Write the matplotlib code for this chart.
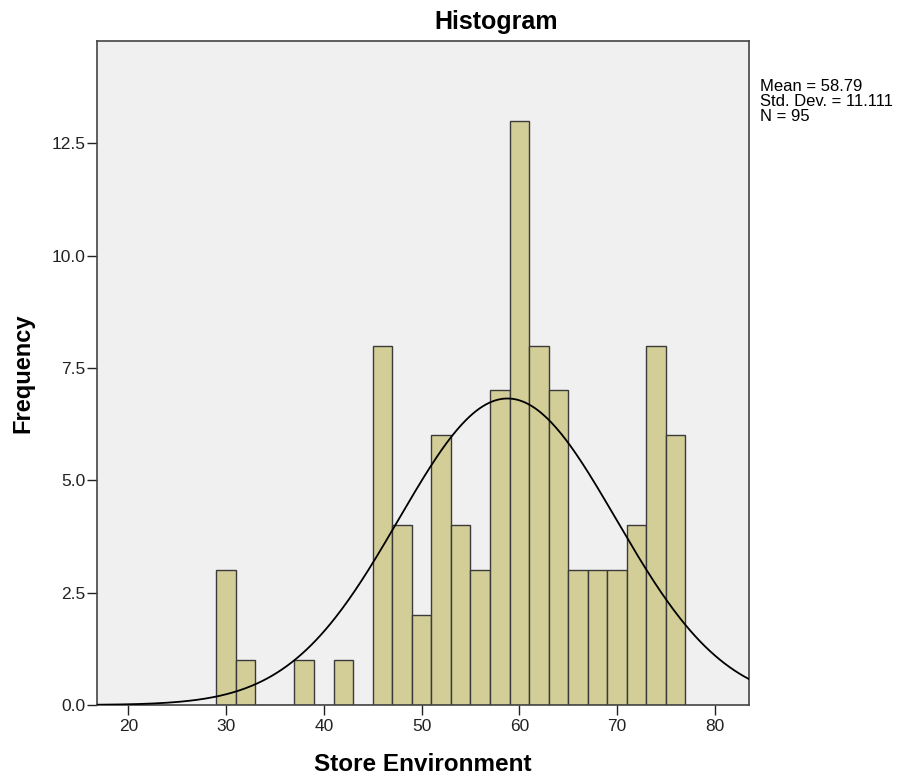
import numpy as np
import matplotlib.pyplot as plt

plt.rcParams['font.family'] = ['Liberation Sans', 'DejaVu Sans']

# histogram bins (width 2) and counts
bin_edges = [29, 31, 33, 35, 37, 39, 41, 43, 45, 47, 49, 51, 53, 55,
             57, 59, 61, 63, 65, 67, 69, 71, 73, 75, 77]
counts = [3, 1, 0, 0, 1, 0, 1, 0, 8, 4, 2, 6, 4, 3,
          7, 13, 8, 7, 3, 3, 3, 4, 8, 6]

mean = 58.79
sd = 11.111
n = 95

fig = plt.figure(figsize=(9.08, 7.82), dpi=100)
ax = fig.add_axes([0.1068, 0.0985, 0.7181, 0.8491])
ax.set_facecolor('#f0f0f0')

lefts = np.array(bin_edges[:-1])
widths = np.diff(bin_edges)
ax.bar(lefts, counts, width=widths, align='edge',
       color='#d3ce97', edgecolor='#3a3a3a', linewidth=1.0, zorder=2)

# normal curve scaled to counts
xs = np.linspace(16.8, 83.5, 400)
bw = 2
ys = n * bw / (sd * np.sqrt(2 * np.pi)) * np.exp(-0.5 * ((xs - mean) / sd) ** 2)
ax.plot(xs, ys, color='black', linewidth=1.3, zorder=3)

ax.set_xlim(16.8, 83.5)
ax.set_ylim(0, 14.78)
ax.set_xticks([20, 30, 40, 50, 60, 70, 80])
ax.set_yticks([0, 2.5, 5, 7.5, 10, 12.5])
ax.set_yticklabels(['0.0', '2.5', '5.0', '7.5', '10.0', '12.5'])
ax.tick_params(labelsize=12.5, length=7, width=1, pad=1.5,
               color='#222222', labelcolor='#222222')
ax.tick_params(axis='x', pad=3)
for s in ax.spines.values():
    s.set_color('#444444')
    s.set_linewidth(1.2)

ax.set_xlabel('Store Environment', fontsize=17.5, fontweight='bold', labelpad=14)
ax.set_ylabel('Frequency', fontsize=17, fontweight='bold', labelpad=12)
fig.text(0.546, 0.972, 'Histogram', ha='center', va='center', fontsize=18, fontweight='bold')

fig.text(0.837, 0.87, 'Mean = 58.79\nStd. Dev. = 11.111\nN = 95',
         ha='left', va='center', fontsize=12, linespacing=1.0)

plt.savefig('out.png')
